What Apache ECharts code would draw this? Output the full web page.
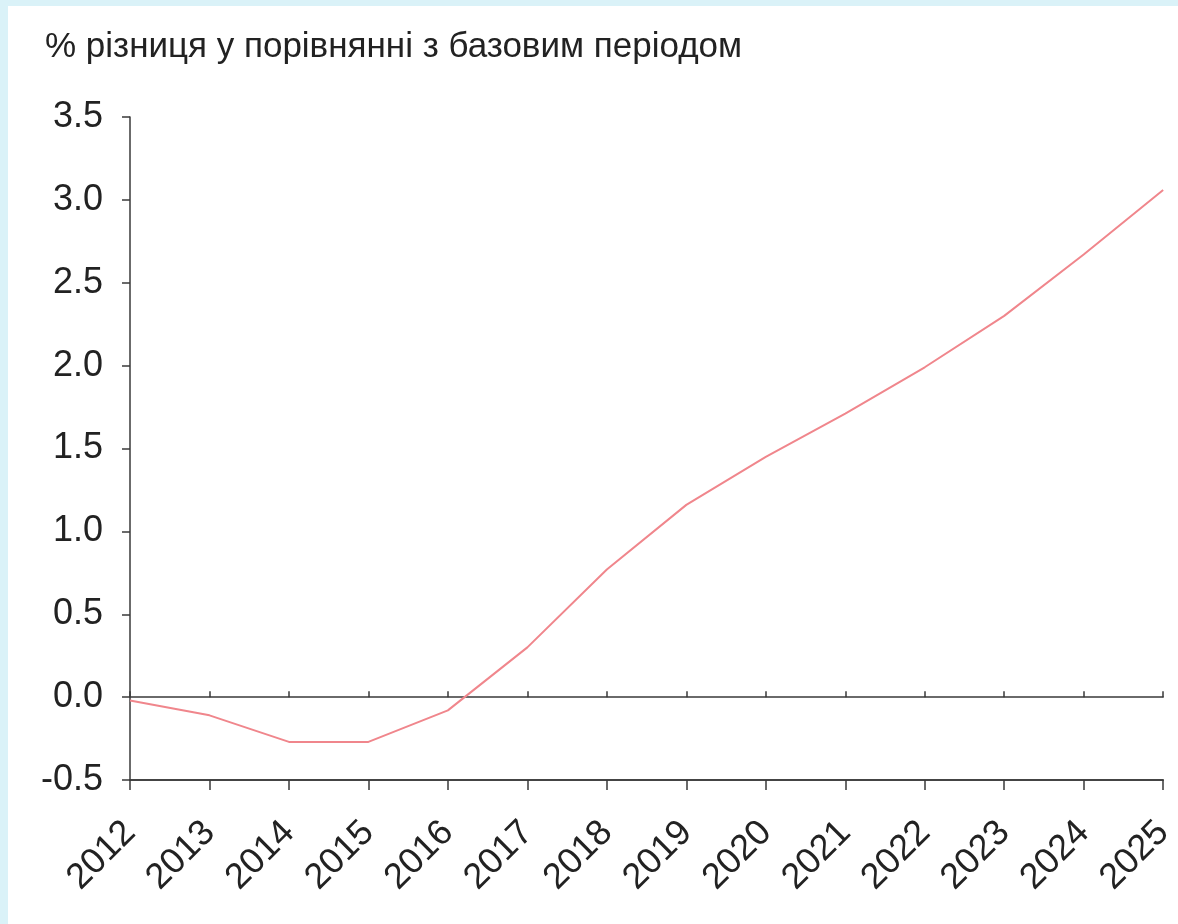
<!DOCTYPE html>
<html>
<head>
<meta charset="utf-8">
<script src="https://cdn.jsdelivr.net/npm/echarts@6/dist/echarts.min.js"></script>
<style>
html,body{margin:0;padding:0;width:1178px;height:924px;background:#daf2f8;overflow:hidden;}
#wrap{position:absolute;left:8px;top:6px;width:1170px;height:918px;background:#ffffff;}
#chart{width:1170px;height:918px;}
</style>
</head>
<body>
<div id="wrap"><div id="chart"></div></div>
<script>
const title = '% різниця у порівнянні з базовим періодом';
const years = ['2012','2013','2014','2015','2016','2017','2018','2019','2020','2021','2022','2023','2024','2025'];
const values = [-0.02, -0.11, -0.27, -0.27, -0.08, 0.30, 0.77, 1.16, 1.45, 1.71, 1.99, 2.30, 2.67, 3.06];
const yMin = -0.5, yMax = 3.5, yStep = 0.5;

const font = 'Liberation Sans, Arial, sans-serif';
const axisColor = '#3a3a3a';
const textColor = '#222222';
const chart = echarts.init(document.getElementById('chart'), null, {renderer:'canvas'});
const zeroAxis = (inside) => ({
  type:'category', data: years, boundaryGap:false, gridIndex:0,
  axisLine:{show:true, onZero:true, lineStyle:{color:axisColor, width:1.5}},
  axisTick:{show:true, inside:inside, length:6, lineStyle:{color:axisColor, width:1.5}},
  axisLabel:{show:false}, splitLine:{show:false}, position:'bottom'
});
chart.setOption({
  animation:false,
  title:{text:title, left:32, top:19, textStyle:{fontFamily:font, fontSize:35, fontWeight:'normal', color:textColor}},
  grid:{left:122, right:12, top:111, bottom:144, containLabel:false},
  xAxis:[
    {type:'category', data: years, boundaryGap:false, position:'bottom',
     axisLine:{show:true, onZero:false, lineStyle:{color:axisColor, width:1.5}},
     axisTick:{show:true, length:10, lineStyle:{color:axisColor, width:1.5}},
     axisLabel:{rotate:45, margin:47, fontFamily:font, fontSize:36, color:textColor, interval:0},
     splitLine:{show:false}},
    zeroAxis(true),
    zeroAxis(false)
  ],
  yAxis:{type:'value', min:yMin, max:yMax, interval:yStep,
    axisLine:{show:true, lineStyle:{color:axisColor, width:1.5}},
    axisTick:{show:true, length:8, lineStyle:{color:axisColor, width:1.5}},
    axisLabel:{margin:27, fontFamily:font, fontSize:36, color:textColor, formatter:(v)=>v.toFixed(1)},
    splitLine:{show:false}},
  series:[{type:'line', data: values, xAxisIndex:0, symbol:'none', smooth:false,
    lineStyle:{color:'#f0868c', width:2}}]
});
</script>
</body>
</html>
